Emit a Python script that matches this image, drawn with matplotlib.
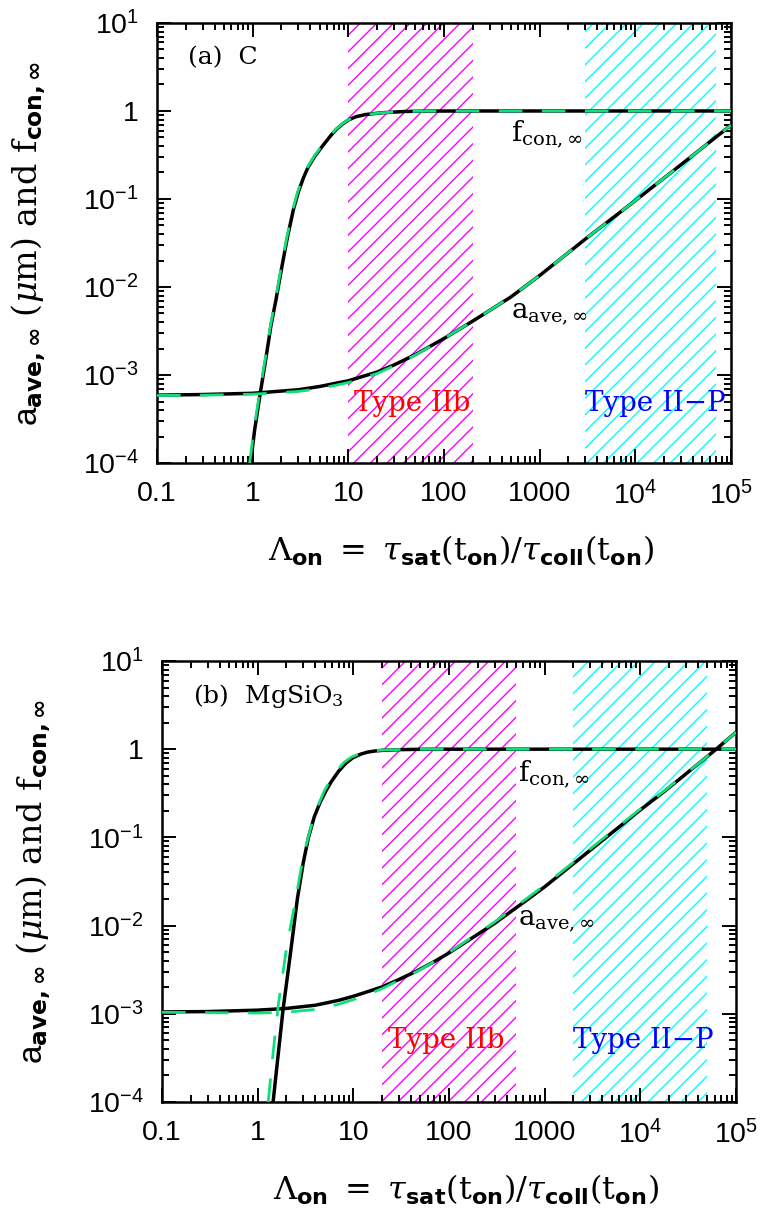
"""Dust grain size and condensation efficiency versus Lambda_on (C and MgSiO3)."""
import matplotlib
matplotlib.use("Agg")
import matplotlib.pyplot as plt
from matplotlib.ticker import LogLocator, NullFormatter

plt.rcParams["font.family"] = ["Liberation Sans", "DejaVu Sans"]
plt.rcParams["mathtext.fontset"] = "custom"
plt.rcParams["mathtext.rm"] = "DejaVu Serif"
plt.rcParams["mathtext.it"] = "DejaVu Serif:italic"
plt.rcParams["mathtext.bf"] = "DejaVu Sans:bold"
plt.rcParams["mathtext.sf"] = "Liberation Sans"
plt.rcParams["hatch.linewidth"] = 1.0

# ---- panel (a): C ----
c_fcon_x = [0.95, 1.05, 1.2, 1.4, 1.55, 1.75, 2.0, 2.3, 2.66, 3.0, 3.4, 3.8, 4.5, 5.47,
            6.5, 7.5, 8.7, 10, 12, 15, 22.5, 40, 70, 150, 1e5]
c_fcon_y = [1e-4, 2.4e-4, 6.2e-4, 1.75e-3, 3.6e-3, 7.1e-3, 0.016, 0.036, 0.075, 0.12, 0.175,
            0.23, 0.31, 0.41, 0.52, 0.62, 0.71, 0.79, 0.86, 0.91, 0.955, 0.988, 0.997, 1.0, 1.0]
c_fcon_fit_x = [0.93, 1.03, 1.18, 1.38, 1.53, 1.73, 1.97, 2.27, 2.62, 2.95, 3.35, 3.75, 4.42,
                5.38, 6.4, 7.4, 8.6, 9.9, 12, 15, 22.5, 40, 70, 150, 1e5]
c_fcon_fit_y = [1e-4, 2.4e-4, 6.2e-4, 1.75e-3, 3.6e-3, 7.1e-3, 0.016, 0.036, 0.075, 0.12, 0.175,
                0.23, 0.31, 0.41, 0.52, 0.62, 0.71, 0.79, 0.86, 0.91, 0.955, 0.988, 0.997, 1.0, 1.0]

c_aave_x = [0.1, 0.3, 1, 3, 5, 10, 20, 30, 50, 100, 200, 500, 1000, 3000, 1e4, 3e4, 1e5]
c_aave_y = [5.9e-4, 6.0e-4, 6.2e-4, 6.8e-4, 7.4e-4, 8.6e-4, 1.08e-3, 1.3e-3, 1.7e-3, 2.6e-3,
            4.1e-3, 7.7e-3, 0.0135, 0.035, 0.096, 0.245, 0.69]
c_aave_fit_x = [0.1, 0.3, 1, 3, 5, 10, 20, 30, 50, 100, 200, 500, 1000, 3000, 1e4, 3e4, 1e5]
c_aave_fit_y = [5.85e-4, 5.9e-4, 6.05e-4, 6.5e-4, 7.0e-4, 8.2e-4, 1.04e-3, 1.27e-3, 1.68e-3,
                2.6e-3, 4.1e-3, 7.7e-3, 0.0135, 0.035, 0.096, 0.245, 0.69]

c_iib = (10, 200)
c_iip = (3000, 7e4)

# ---- panel (b): MgSiO3 ----
m_fcon_x = [1.45, 1.6, 1.84, 2.2, 2.6, 3.0, 3.4, 3.9, 4.5, 5.2, 5.9, 7.0, 8.3, 9.9, 12, 14,
            17, 20, 30, 50, 100, 1e5]
m_fcon_y = [1e-4, 2.7e-4, 1.1e-3, 4.8e-3, 0.02, 0.052, 0.1, 0.17, 0.25, 0.34, 0.43, 0.56,
            0.69, 0.80, 0.88, 0.925, 0.955, 0.97, 0.988, 0.997, 1.0, 1.0]
m_fcon_fit_x = [1.29, 1.45, 1.65, 2.0, 2.52, 2.85, 3.2, 3.7, 4.2, 5.0, 5.8, 6.8, 8.0, 9.5,
                11.5, 13.3, 17, 22, 35, 60, 1e5]
m_fcon_fit_y = [1e-4, 3.6e-4, 1.3e-3, 5.5e-3, 0.021, 0.045, 0.08, 0.145, 0.22, 0.34, 0.45,
                0.58, 0.71, 0.81, 0.885, 0.925, 0.963, 0.982, 0.995, 1.0, 1.0]

m_aave_x = [0.1, 0.3, 1, 2, 4, 7, 10, 15, 20, 30, 44.5, 70, 100, 300, 630, 1000, 3400, 1e4,
            1.8e4, 6e4, 1e5]
m_aave_y = [1.05e-3, 1.06e-3, 1.1e-3, 1.15e-3, 1.25e-3, 1.42e-3, 1.58e-3, 1.82e-3, 2.02e-3,
            2.45e-3, 3.0e-3, 3.9e-3, 4.9e-3, 0.0106, 0.019, 0.0275, 0.08, 0.205, 0.335, 0.97, 1.56]
m_aave_fit_x = [0.1, 0.3, 1, 2, 4, 7, 10, 15, 20, 30, 44.5, 70, 100, 300, 630, 1000, 3400, 1e4,
                1.8e4, 6e4, 1e5]
m_aave_fit_y = [1.04e-3, 1.03e-3, 1.02e-3, 1.04e-3, 1.12e-3, 1.28e-3, 1.45e-3, 1.7e-3, 1.93e-3,
                2.4e-3, 2.95e-3, 3.9e-3, 4.95e-3, 0.011, 0.0198, 0.0288, 0.083, 0.21, 0.34,
                0.97, 1.56]

m_iib = (20, 500)
m_iip = (2000, 5e4)

x_ticks = [0.1, 1, 10, 100, 1000, 1e4, 1e5]
x_labels = ["0.1", "1", "10", "100", "1000", r"$\mathsf{10^{4}}$", r"$\mathsf{10^{5}}$"]
y_ticks = [1e-4, 1e-3, 1e-2, 1e-1, 1, 10]
y_labels = [r"$\mathsf{10^{-4}}$", r"$\mathsf{10^{-3}}$", r"$\mathsf{10^{-2}}$",
            r"$\mathsf{10^{-1}}$", "1", r"$\mathsf{10^{1}}$"]

GREEN = "#10e07a"
SERIF = "DejaVu Serif"


def draw_panel(ax, fcon, fcon_fit, aave, aave_fit, iib, iip, tag, labpos):
    ax.axvspan(*iib, facecolor="none", edgecolor="#ff00ff", hatch="//", lw=0, zorder=1)
    ax.axvspan(*iip, facecolor="none", edgecolor="#00ffff", hatch="//", lw=0, zorder=1)

    ax.plot(*fcon, color="black", lw=2.5, zorder=3)
    ax.plot(*aave, color="black", lw=2.5, zorder=3)
    ax.plot(*fcon_fit, color=GREEN, lw=2.0, dashes=(8.5, 7), zorder=4)
    ax.plot(*aave_fit, color=GREEN, lw=2.0, dashes=(8.5, 7), zorder=4)

    ax.set_xscale("log")
    ax.set_yscale("log")
    ax.set_xlim(0.1, 1e5)
    ax.set_ylim(1e-4, 10)

    ax.text(0.054, 0.92, tag, transform=ax.transAxes, fontsize=18,
            family=SERIF, va="center", ha="left")
    ax.text(iib[0] * 1.15, labpos["type_y"], "Type IIb", color="red", fontsize=20,
            family=SERIF, va="center", ha="left")
    ax.text(iip[0] * 1.0, labpos["type_y"], "Type II\u2212P", color="blue", fontsize=20,
            family=SERIF, va="center", ha="left")
    ax.text(labpos["lab_x"], labpos["f_y"], r"f$_{\mathrm{con},\infty}$", fontsize=20,
            family=SERIF, va="center", ha="left")
    ax.text(labpos["lab_x"], labpos["a_y"], r"a$_{\mathrm{ave},\infty}$", fontsize=20,
            family=SERIF, va="center", ha="left")

    ax.set_xticks(x_ticks)
    ax.set_xticklabels(x_labels)
    ax.set_yticks(y_ticks)
    ax.set_yticklabels(y_labels)
    for axis in (ax.xaxis, ax.yaxis):
        axis.set_minor_locator(LogLocator(base=10, subs=range(2, 10), numticks=30))
        axis.set_minor_formatter(NullFormatter())
    ax.tick_params(which="both", direction="in", top=True, right=True,
                   labelsize=20.5, width=1.4, pad=13)
    ax.tick_params(which="major", length=10)
    ax.tick_params(which="minor", length=5)
    for sp in ax.spines.values():
        sp.set_linewidth(1.8)

    ax.set_xlabel(r"$\Lambda_{\mathbf{on}}\ =\ \tau_{\mathbf{sat}}(\mathrm{t}_{\mathbf{on}})"
                  r"/\tau_{\mathbf{coll}}(\mathrm{t}_{\mathbf{on}})$", fontsize=23)
    ax.xaxis.set_label_coords(0.53, -0.2)
    ax.xaxis.label.set_va("center")
    ax.set_ylabel(r"$\mathsf{a}_{\mathbf{ave,\infty}}$ ($\mu$m) and f$_{\mathbf{con,\infty}}$",
                  fontsize=24, family=SERIF)
    ax.yaxis.set_label_coords(-0.225, 0.5)
    ax.yaxis.label.set_va("center")


fig = plt.figure(figsize=(7.64, 12.22), dpi=100)
ax1 = fig.add_axes([0.2055, 0.6211, 0.7513, 0.3601])
ax2 = fig.add_axes([0.2120, 0.0982, 0.7514, 0.3609])

draw_panel(ax1, (c_fcon_x, c_fcon_y), (c_fcon_fit_x, c_fcon_fit_y),
           (c_aave_x, c_aave_y), (c_aave_fit_x, c_aave_fit_y), c_iib, c_iip,
           "(a)  C", {"type_y": 4.8e-4, "lab_x": 500, "f_y": 0.55, "a_y": 5e-3})
draw_panel(ax2, (m_fcon_x, m_fcon_y), (m_fcon_fit_x, m_fcon_fit_y),
           (m_aave_x, m_aave_y), (m_aave_fit_x, m_aave_fit_y), m_iib, m_iip,
           r"(b)  MgSiO$_3$", {"type_y": 5e-4, "lab_x": 530, "f_y": 0.52, "a_y": 0.0114})

fig.savefig("out.png", dpi=100)
print("wrote out.png")
